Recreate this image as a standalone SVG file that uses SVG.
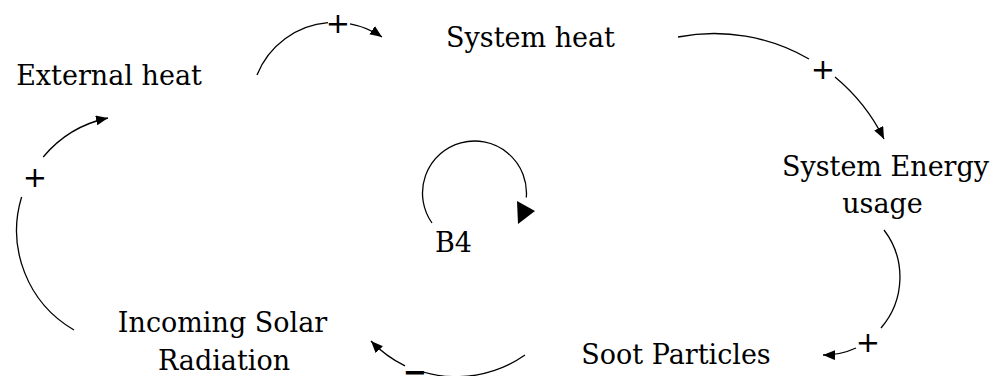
<svg xmlns="http://www.w3.org/2000/svg" width="995" height="376" viewBox="0 0 995 376">
  <style>
    .lbl { font-family: "DejaVu Serif", "Liberation Serif", serif; font-size: 27px; fill: #000; text-anchor: middle; }
    .pol { font-family: "DejaVu Sans", "Liberation Sans", sans-serif; font-size: 29px; fill: #000; text-anchor: middle; }
    .c { fill: none; stroke: #000; stroke-width: 1.3; }
  </style>
  <defs>
    <marker id="arr" markerUnits="userSpaceOnUse" markerWidth="14" markerHeight="12" refX="12" refY="5" orient="auto">
      <path d="M0,0 L12,5 L0,10 z" fill="#000"/>
    </marker>
  </defs>
  <rect width="995" height="376" fill="#fff"/>

  <g id="connectors">
    <path class="c" d="M257,75 A83.8,83.8 0 0 1 328,22.7"/>
    <path class="c" d="M350,23.8 A83.8,83.8 0 0 1 382,37" marker-end="url(#arr)"/>
    <path class="c" d="M678,37 A189.6,189.6 0 0 1 809,59"/>
    <path class="c" d="M835,77 A189.6,189.6 0 0 1 884,139" marker-end="url(#arr)"/>
    <path class="c" d="M884,230 A77.7,77.7 0 0 1 881,328"/>
    <path class="c" d="M856,348 A77.7,77.7 0 0 1 823,355" marker-end="url(#arr)"/>
    <path class="c" d="M525,355 A120.2,120.2 0 0 1 423,372"/>
    <path class="c" d="M405,365.9 A120.2,120.2 0 0 1 371,341" marker-end="url(#arr)"/>
    <path class="c" d="M74,330 A115,115 0 0 1 21.6,197"/>
    <path class="c" d="M43.2,157 A115,115 0 0 1 108,118" marker-end="url(#arr)"/>
    <text class="pol" x="338" y="33">+</text>
    <text class="pol" x="823" y="79">+</text>
    <text class="pol" x="868" y="352">+</text>
    <text class="pol" x="415" y="382" font-weight="bold">−</text>
    <text class="pol" x="35" y="187">+</text>
  </g>

  <g id="external-heat">
    <text class="lbl" x="109" y="85">External heat</text>
  </g>
  <g id="system-heat">
    <text class="lbl" x="530.5" y="47">System heat</text>
  </g>
  <g id="system-energy-usage">
    <text class="lbl" x="885.5" y="176">System Energy</text>
    <text class="lbl" x="882.5" y="213">usage</text>
  </g>
  <g id="soot-particles">
    <text class="lbl" x="676" y="364">Soot Particles</text>
  </g>
  <g id="incoming-solar-radiation">
    <text class="lbl" x="222.5" y="332">Incoming Solar</text>
    <text class="lbl" x="224" y="370">Radiation</text>
  </g>
  <g id="loop-b4">
    <path class="c" d="M432,223 A52,52 0 1 1 526.3,197.5"/>
    <polygon points="517,201 535,211 518,224" fill="#000"/>
    <text class="lbl" x="453.5" y="252">B4</text>
  </g>
</svg>
